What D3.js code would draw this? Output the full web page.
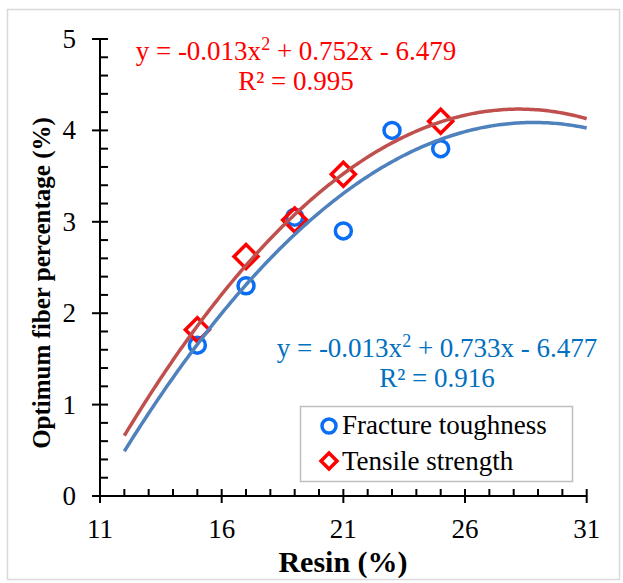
<!DOCTYPE html>
<html>
<head>
<meta charset="utf-8">
<script src="https://cdn.jsdelivr.net/npm/d3@7"></script>
<style>
  body { margin: 0; background: #fff; }
</style>
</head>
<body>
<div id="chart"></div>
<script>
// data
const resinTough = [15, 17, 19, 21, 23, 25];
const fractureToughness = [1.65, 2.30, 3.05, 2.90, 4.00, 3.80];
const resinTensile = [15, 17, 19, 21, 25];
const tensileStrength = [1.82, 2.62, 3.02, 3.52, 4.10];
const xTicks = [11, 16, 21, 26, 31];
const yTicks = [0, 1, 2, 3, 4, 5];
const trendRange = [12, 31];
const seriesNames = ["Fracture toughness", "Tensile strength"];

const width = 623, height = 583;
const serif = "Times New Roman, Times, Liberation Serif, Tinos, Nimbus Roman, Noto Serif, DejaVu Serif, serif";

const svg = d3.select("#chart").append("svg")
  .attr("width", width)
  .attr("height", height)
  .style("font-family", serif);

// outer chart frame
svg.append("rect")
  .attr("x", 7.5).attr("y", 9.5)
  .attr("width", 612).attr("height", 570)
  .attr("fill", "#fff").attr("stroke", "#d9d9d9").attr("stroke-width", 1.5);

const x = d3.scaleLinear().domain([11, 31]).range([100, 586.7]);
const y = d3.scaleLinear().domain([0, 5]).range([496, 39]);

// quadratic least squares, like Excel's polynomial trendline
function polyFit(xs, ys) {
  let s = [0, 0, 0, 0, 0], t = [0, 0, 0];
  xs.forEach((xv, i) => {
    for (let k = 0; k < 5; k++) s[k] += Math.pow(xv, k);
    for (let k = 0; k < 3; k++) t[k] += Math.pow(xv, k) * ys[i];
  });
  const m = [
    [s[0], s[1], s[2], t[0]],
    [s[1], s[2], s[3], t[1]],
    [s[2], s[3], s[4], t[2]]
  ];
  for (let i = 0; i < 3; i++) {
    for (let j = i + 1; j < 3; j++) {
      const f = m[j][i] / m[i][i];
      for (let k = i; k < 4; k++) m[j][k] -= f * m[i][k];
    }
  }
  const c = [0, 0, 0];
  for (let i = 2; i >= 0; i--) {
    let v = m[i][3];
    for (let k = i + 1; k < 3; k++) v -= m[i][k] * c[k];
    c[i] = v / m[i][i];
  }
  return c; // c0 + c1 x + c2 x^2
}

// axes
const axisG = svg.append("g").attr("stroke", "#000").attr("stroke-width", 2);
axisG.append("line").attr("x1", x(11)).attr("x2", x(11)).attr("y1", y(5)).attr("y2", y(0));
axisG.append("line").attr("x1", x(11) - 8).attr("x2", x(31)).attr("y1", y(0)).attr("y2", y(0));

// y ticks
d3.range(0, 5.01, 0.2).forEach(v => {
  const major = Math.abs(v - Math.round(v)) < 1e-6;
  axisG.append("line")
    .attr("x1", major ? x(11) - 8 : x(11)).attr("x2", x(11) + 8)
    .attr("y1", y(v)).attr("y2", y(v));
});
// x ticks
d3.range(11, 31.01, 1).forEach(v => {
  const major = (v - 11) % 5 === 0;
  axisG.append("line")
    .attr("x1", x(v)).attr("x2", x(v))
    .attr("y1", y(0) - 7).attr("y2", major ? y(0) + 7 : y(0));
});

svg.append("g").selectAll("text").data(yTicks).join("text")
  .attr("x", 76).attr("y", d => y(d) + 9)
  .attr("text-anchor", "end")
  .attr("font-size", 27)
  .text(d => d);

svg.append("g").selectAll("text").data(xTicks).join("text")
  .attr("x", d => x(d)).attr("y", 538)
  .attr("text-anchor", "middle")
  .attr("font-size", 27)
  .text(d => d);

svg.append("text")
  .attr("x", 343).attr("y", 572)
  .attr("text-anchor", "middle")
  .attr("font-size", 30).attr("font-weight", "bold")
  .text("Resin (%)");

svg.append("text")
  .attr("transform", "translate(50,283) rotate(-90)")
  .attr("text-anchor", "middle")
  .attr("font-size", 25).attr("font-weight", "bold")
  .text("Optimum fiber percentage (%)");

// markers
const blue = "#0A6EF5", red = "#FF0000";
const diamond = (cx, cy, r) => `M${cx},${cy - r}L${cx + r},${cy}L${cx},${cy + r}L${cx - r},${cy}Z`;

svg.append("g").selectAll("circle").data(resinTough).join("circle")
  .attr("cx", d => x(d))
  .attr("cy", (d, i) => y(fractureToughness[i]))
  .attr("r", 8)
  .attr("fill", "none").attr("stroke", blue).attr("stroke-width", 3.5);

svg.append("g").selectAll("path").data(resinTensile).join("path")
  .attr("d", (d, i) => diamond(x(d), y(tensileStrength[i]), 12))
  .attr("fill", "none").attr("stroke", red).attr("stroke-width", 3.5);

// trendlines
const line = d3.line().x(d => x(d[0])).y(d => y(d[1]));
function trend(xs, ys, color) {
  const c = polyFit(xs, ys);
  const pts = d3.range(trendRange[0], trendRange[1] + 0.001, 0.1)
    .map(v => [v, c[0] + c[1] * v + c[2] * v * v]);
  svg.append("path").datum(pts)
    .attr("d", line)
    .attr("fill", "none").attr("stroke", color).attr("stroke-width", 3.5);
}
trend(resinTensile, tensileStrength, "#C0504D");
trend(resinTough, fractureToughness, "#4F81BD");

// equations
function equation(cx, by, color, b, c, r2) {
  const t = svg.append("text")
    .attr("x", cx).attr("y", by)
    .attr("text-anchor", "middle")
    .attr("font-size", 27).attr("fill", color);
  t.append("tspan").text("y = -0.013x");
  t.append("tspan").attr("dy", -10).attr("font-size", 18).text("2");
  t.append("tspan").attr("dy", 10).text(` + ${b}x - ${c}`);
  svg.append("text")
    .attr("x", cx).attr("y", by + 30)
    .attr("text-anchor", "middle")
    .attr("font-size", 27).attr("fill", color)
    .text(`R² = ${r2}`);
}
equation(296, 60, "#FF0000", "0.752", "6.479", "0.995");
equation(437, 357, "#0070C0", "0.733", "6.477", "0.916");

// legend
const lg = svg.append("g");
lg.append("rect")
  .attr("x", 300.5).attr("y", 406.5).attr("width", 272).attr("height", 75)
  .attr("fill", "#fff").attr("stroke", "#bfbfbf").attr("stroke-width", 1.5);
lg.append("circle").attr("cx", 329).attr("cy", 426).attr("r", 7)
  .attr("fill", "none").attr("stroke", blue).attr("stroke-width", 3.5);
lg.append("path").attr("d", diamond(329, 461, 8))
  .attr("fill", "none").attr("stroke", red).attr("stroke-width", 3.5);
lg.selectAll("text").data(seriesNames).join("text")
  .attr("x", 342).attr("y", (d, i) => 434 + i * 36)
  .attr("font-size", 27)
  .text(d => d);
</script>
</body>
</html>
